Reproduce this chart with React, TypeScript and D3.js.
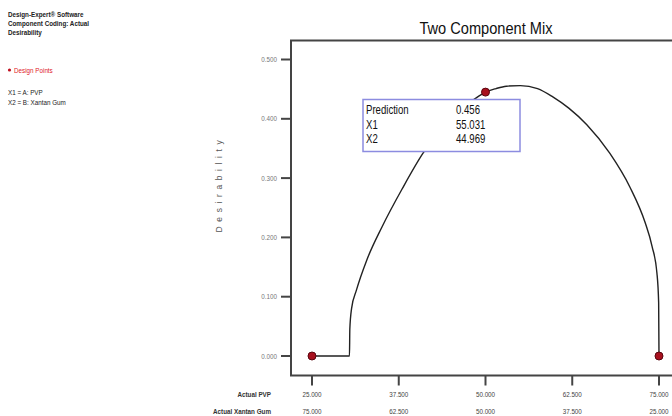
import React from 'react';
import * as d3 from 'd3';

// desirability trace along the mixture (X1 = PVP, X2 = 100 - X1)
const curveX1 = [25, 30.4, 30.45, 30.7, 31.4, 32.9, 35.1, 38, 41, 44, 47, 48.5, 50, 51.5, 53, 55.03, 57.5, 59.7, 62, 64.6, 67.9, 70.8, 73, 74, 74.7, 74.95, 75];
const curveD = [0, 0, 0.045, 0.08, 0.111, 0.162, 0.218, 0.282, 0.342, 0.388, 0.421, 0.434, 0.445, 0.451, 0.455, 0.456, 0.451, 0.437, 0.418, 0.39, 0.342, 0.285, 0.225, 0.185, 0.14, 0.09, 0];

const pointX1 = [25, 50, 75];
const pointD = [0, 0.445, 0];

const yTicks = [0, 0.1, 0.2, 0.3, 0.4, 0.5];
const pvpTicks = [25, 37.5, 50, 62.5, 75];

const predLabels = ['Prediction', 'X1', 'X2'];
const predValues = ['0.456', '55.031', '44.969'];

const legendLines = ['Design-Expert\u00ae Software', 'Component Coding: Actual', 'Desirability'];

const font = '"Liberation Sans", Arial, sans-serif';

// condensed text: the original uses a narrow face, so squeeze horizontally
const T = ({ x, y, size, sx = 0.84, anchor = 'start', fill = '#222', weight = 'normal', children }: any) => (
  <text transform={`translate(${x},${y}) scale(${sx},1)`} textAnchor={anchor} fontFamily={font}
    fontSize={size} fontWeight={weight} fill={fill}>{children}</text>
);

const App = () => {
  const W = 672, H = 416;
  const left = 291, top = 40.5, bottom = 375.5, right = 690;

  const x = d3.scaleLinear().domain([25, 75]).range([312, 659]);
  const y = d3.scaleLinear().domain([0, 0.5]).range([356, 59.5]);

  const line = d3.line<number>()
    .x((d, i) => x(curveX1[i]))
    .y(d => y(d))
    .curve(d3.curveMonotoneX);

  const fmt = d3.format('.3f');

  return (
    <svg width={W} height={H} style={{ position: 'absolute', left: 0, top: 0, background: '#fff' }}>
      {/* header notes */}
      {legendLines.map((t, i) => (
        <T key={t} x={8} y={[17, 25.5, 35][i]} size={7.5} weight="bold" fill="#222">{t}</T>
      ))}
      <circle cx={9.5} cy={70} r={1.6} fill="#c01020" />
      <T x={14} y={72.5} size={7.5} fill="#e0202a">Design Points</T>
      <T x={8} y={95} size={7.5}>X1 = A: PVP</T>
      <T x={8} y={104.5} size={7.5}>X2 = B: Xantan Gum</T>

      {/* title */}
      <T x={486} y={34} size={17} sx={0.86} anchor="middle" fill="#111">Two Component Mix</T>

      {/* frame */}
      <path d={`M${right},${top}H${left}V${bottom}H${right}`} fill="none" stroke="#444" strokeWidth={2} />

      {/* y axis */}
      {yTicks.map(t => (
        <g key={t}>
          <line x1={left - 10} x2={left} y1={y(t)} y2={y(t)} stroke="#444" strokeWidth={2} />
          <T x={left - 14} y={y(t) + 2.5} size={7.5} anchor="end" fill="#777">{fmt(t)}</T>
        </g>
      ))}
      <text transform={`translate(222,184) rotate(-90)`} textAnchor="middle" fontFamily={font} fontSize={8.5} letterSpacing={4.6} fill="#555">Desirability</text>

      {/* x axis */}
      {pvpTicks.map(t => (
        <g key={t}>
          <line x1={x(t)} x2={x(t)} y1={bottom} y2={bottom + 10} stroke="#444" strokeWidth={2} />
          <T x={x(t)} y={397} size={7.5} anchor="middle" fill="#444">{fmt(t)}</T>
          <T x={x(t)} y={414} size={7.5} anchor="middle" fill="#444">{fmt(100 - t)}</T>
        </g>
      ))}
      <T x={271} y={397} size={7.5} anchor="end" weight="bold" fill="#333">Actual PVP</T>
      <T x={271} y={414} size={7.5} anchor="end" weight="bold" fill="#333">Actual Xantan Gum</T>

      {/* desirability curve */}
      <path d={line(curveD) || ''} fill="none" stroke="#222" strokeWidth={1.4} />

      {/* prediction box */}
      <rect x={363} y={99.5} width={157} height={52} fill="#fff" stroke="#8c8ce0" strokeWidth={1.5} />
      {predLabels.map((t, i) => (
        <g key={t}>
          <T x={366} y={114 + i * 14.5} size={12} sx={0.8} fill="#111">{t}</T>
          <T x={456} y={114 + i * 14.5} size={12} sx={0.8} fill="#111">{predValues[i]}</T>
        </g>
      ))}

      {/* design points */}
      {pointX1.map((p, i) => (
        <circle key={p} cx={x(p)} cy={y(pointD[i])} r={4} fill="#a8101e" stroke="#5a0610" strokeWidth={1} />
      ))}
    </svg>
  );
};

export default App;
